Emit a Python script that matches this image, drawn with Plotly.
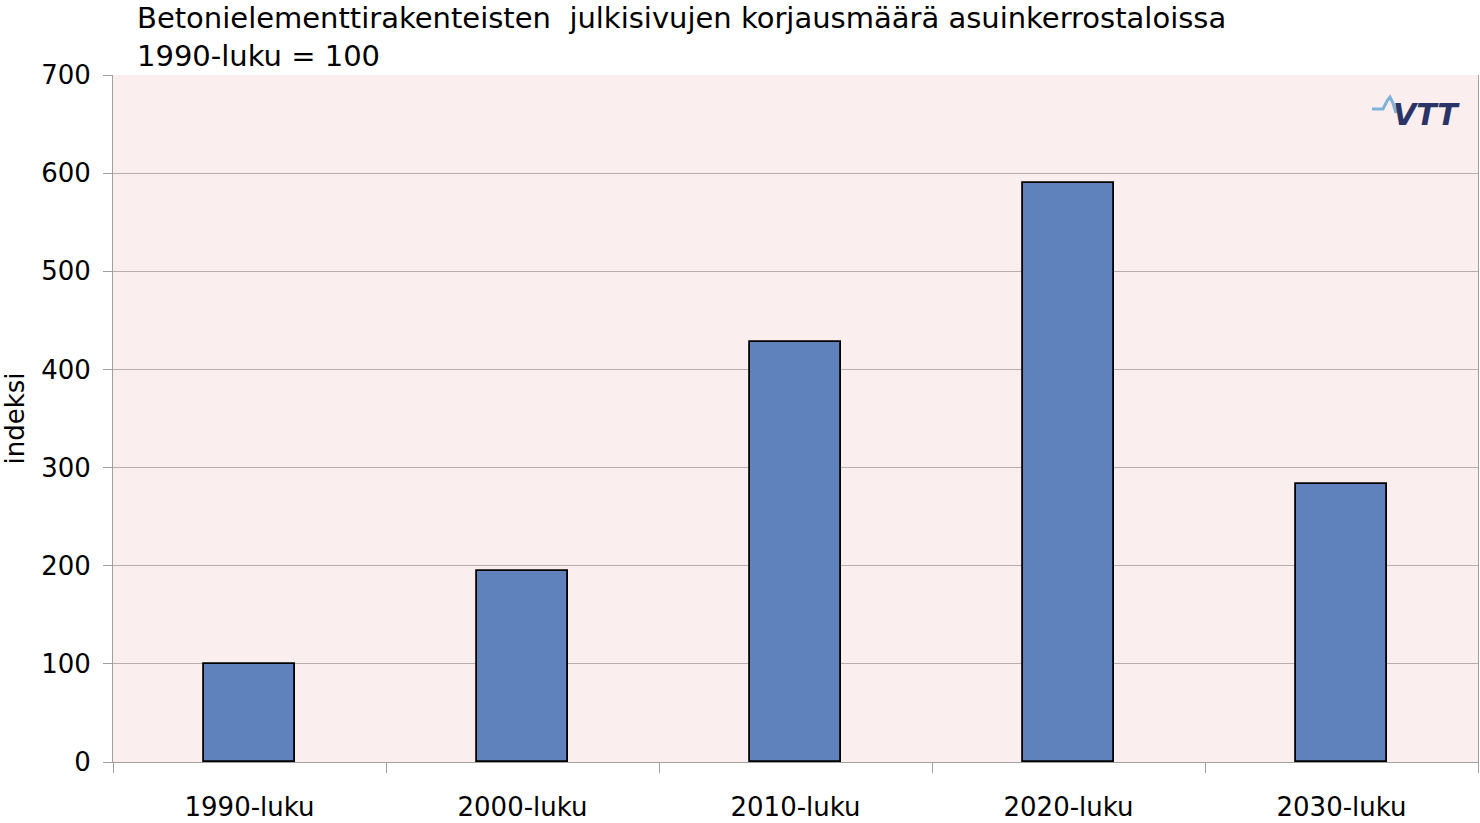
import plotly.graph_objects as go

categories = ["1990-luku", "2000-luku", "2010-luku", "2020-luku", "2030-luku"]
values = [100, 195, 428, 590, 283]
y_ticks = [0, 100, 200, 300, 400, 500, 600, 700]
title_line1 = "Betonielementtirakenteisten  julkisivujen korjausmäärä asuinkerrostaloissa"
title_line2 = "1990-luku = 100"
y_title = "indeksi"

FONT = "DejaVu Sans"
W, H = 1480, 823
L, R, T, B = 113, 2, 75, 61
PW, PH = W - L - R, H - T - B


def px(x):
    return (x - L) / PW


def py(y):
    return (H - B - y) / PH


fig = go.Figure()
fig.add_trace(go.Bar(
    x=categories, y=values, width=0.333,
    marker=dict(color="#5F82BC", line=dict(color="#000000", width=1.8)),
    hoverinfo="x+y",
))

fig.update_layout(
    width=W, height=H,
    margin=dict(l=L, r=R, t=T, b=B, autoexpand=False),
    paper_bgcolor="white",
    plot_bgcolor="#FBEEEE",
    showlegend=False,
    font=dict(family=FONT, size=26, color="black"),
    bargap=0,
)
fig.update_xaxes(
    type="category", tickson="boundaries", ticks="outside", ticklen=10,
    tickcolor="#A0A0A0", tickwidth=1,
    showline=True, linecolor="#A0A0A0", linewidth=1, mirror=False,
    showgrid=False, tickfont=dict(size=26), ticklabelstandoff=22,
)
fig.update_yaxes(
    range=[0, 700], tickvals=y_ticks, ticks="outside", ticklen=9,
    tickcolor="#A0A0A0", tickwidth=1,
    showline=True, linecolor="#A0A0A0", linewidth=1, mirror=True,
    showgrid=True, gridcolor="#B8AEAE", gridwidth=1, zeroline=False,
    tickfont=dict(size=26), ticklabelstandoff=7,
    title=dict(text=y_title, font=dict(size=26), standoff=27),
)

fig.add_annotation(
    xref="paper", yref="paper", x=px(135), y=1, yshift=0,
    xanchor="left", yanchor="bottom", align="left", showarrow=False,
    text=title_line1 + "<br>" + title_line2, font=dict(size=29),
)

# VTT logo
fig.add_annotation(
    xref="paper", yref="paper", x=px(1426), y=py(115), xanchor="center", yanchor="middle",
    showarrow=False, text="<b><i>VTT</i></b>",
    font=dict(family="DejaVu Sans", size=30, color="#2B3467"),
)
wave = [(1372, 109), (1383, 109), (1387, 101), (1390, 97), (1393, 103), (1396, 113)]
fig.add_shape(
    type="path", xref="paper", yref="paper", layer="above",
    path="M " + " L ".join(f"{px(a):.5f} {py(b):.5f}" for a, b in wave),
    line=dict(color="#7FB2D8", width=3),
)

fig.write_html("out.html", config={"displayModeBar": False},
               post_script="document.body.style.margin='0';")
